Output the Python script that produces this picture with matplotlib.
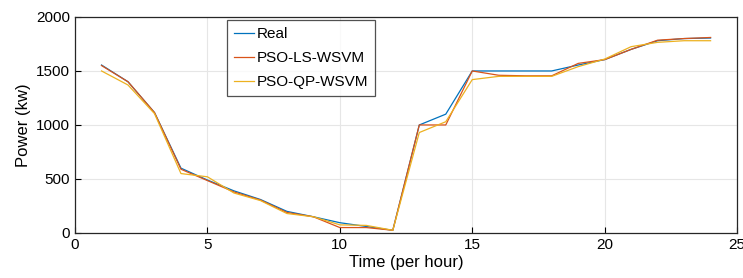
import matplotlib.pyplot as plt

plt.rcParams['font.family'] = ['Liberation Sans', 'DejaVu Sans']

# Hourly power, real and two forecasts
hours = list(range(1, 25))
real = [1555, 1400, 1115, 600, 490, 390, 310, 200, 150, 95, 60, 25,
        1000, 1100, 1500, 1500, 1500, 1500, 1555, 1605, 1700, 1780, 1800, 1805]
pso_ls = [1550, 1400, 1115, 590, 485, 380, 305, 190, 150, 50, 50, 25,
          1000, 1000, 1500, 1460, 1455, 1455, 1570, 1605, 1700, 1785, 1800, 1810]
pso_qp = [1500, 1370, 1105, 550, 520, 370, 300, 180, 150, 75, 70, 25,
          930, 1030, 1420, 1450, 1450, 1450, 1540, 1610, 1725, 1765, 1780, 1780]

fig = plt.figure(figsize=(7.43, 2.78), dpi=100)
ax = fig.add_axes([0.101, 0.162, 0.891, 0.777])

ax.plot(hours, real, color='#0072BD', lw=0.9, label='Real')
ax.plot(hours, pso_ls, color='#D95319', lw=0.9, label='PSO-LS-WSVM')
ax.plot(hours, pso_qp, color='#EDB120', lw=0.9, label='PSO-QP-WSVM')

ax.set_xlim(0, 25)
ax.set_ylim(0, 2000)
ax.set_xticks([0, 5, 10, 15, 20, 25])
ax.set_yticks([0, 500, 1000, 1500, 2000])
ax.grid(True, color='#e6e6e6', lw=0.8)
ax.tick_params(direction='in', labelsize=11, length=4, top=False, right=False)
for s in ax.spines.values():
    s.set_color('#262626')
    s.set_linewidth(0.9)

ax.set_xlabel('Time (per hour)', fontsize=12, labelpad=2)
ax.set_ylabel('Power (kw)', fontsize=12, labelpad=4)

leg = ax.legend(loc='upper left', bbox_to_anchor=(0.23, 0.985), fontsize=11,
                frameon=True, fancybox=False, handlelength=1.3, handletextpad=0.2,
                borderpad=0.45, labelspacing=0.65, borderaxespad=0)
leg.get_frame().set_edgecolor('#262626')
leg.get_frame().set_linewidth(0.9)

fig.savefig('out.png', dpi=100)
